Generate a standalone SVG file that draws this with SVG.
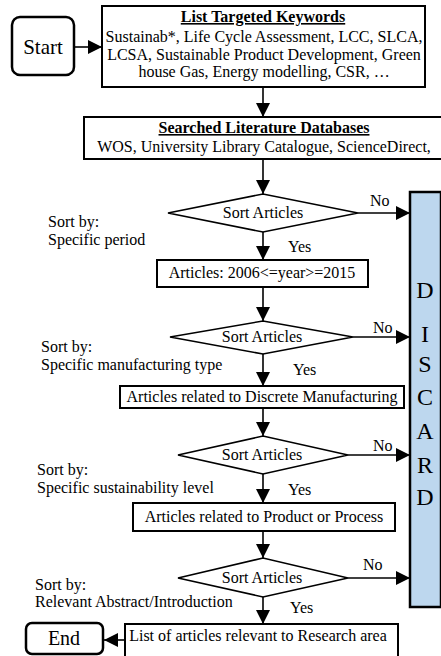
<svg xmlns="http://www.w3.org/2000/svg" width="441" height="656" viewBox="0 0 441 656">
<style>
text{font-family:"Liberation Serif","Times New Roman",serif;font-size:16px;fill:#000}
.c{text-anchor:middle}
.b{font-weight:bold;text-decoration:underline}
.box{fill:#fff;stroke:#000;stroke-width:2}
.dia{fill:#fff;stroke:#000;stroke-width:1.6}
.term{fill:#fff;stroke:#000;stroke-width:2.5}
.ln{fill:none;stroke:#000;stroke-width:1.6}
.big{font-size:24px}
</style>
<defs>
<marker id="ah" markerUnits="userSpaceOnUse" markerWidth="15" markerHeight="15" refX="14" refY="7" orient="auto">
<path d="M0,0 L14,7 L0,14 z" fill="#000"/>
</marker>
</defs>
<rect width="441" height="656" fill="#fff"/>

<g id="discard">
<rect x="410" y="192" width="31" height="415" fill="#BDD7EE" stroke="#000" stroke-width="2.5"/>
<text class="c big" x="425" y="298">D</text>
<text class="c big" x="425" y="342">I</text>
<text class="c big" x="425" y="372">S</text>
<text class="c big" x="425" y="405">C</text>
<text class="c big" x="425" y="439">A</text>
<text class="c big" x="425" y="473">R</text>
<text class="c big" x="425" y="505">D</text>
</g>

<g id="connectors">
<line class="ln" x1="74" y1="47" x2="102" y2="47" marker-end="url(#ah)"/>
<line class="ln" x1="263" y1="87" x2="263" y2="117" marker-end="url(#ah)"/>
<line class="ln" x1="263" y1="159" x2="263" y2="194" marker-end="url(#ah)"/>
<line class="ln" x1="263" y1="232" x2="263" y2="260" marker-end="url(#ah)"/>
<line class="ln" x1="263" y1="287" x2="263" y2="321" marker-end="url(#ah)"/>
<line class="ln" x1="263" y1="354" x2="263" y2="386" marker-end="url(#ah)"/>
<line class="ln" x1="263" y1="408" x2="263" y2="436" marker-end="url(#ah)"/>
<line class="ln" x1="263" y1="474" x2="263" y2="503" marker-end="url(#ah)"/>
<line class="ln" x1="263" y1="531" x2="263" y2="558" marker-end="url(#ah)"/>
<line class="ln" x1="263" y1="597" x2="263" y2="624" marker-end="url(#ah)"/>
<line class="ln" x1="358" y1="213" x2="410" y2="213" marker-end="url(#ah)"/>
<line class="ln" x1="353" y1="337" x2="410" y2="337" marker-end="url(#ah)"/>
<line class="ln" x1="348" y1="455" x2="410" y2="455" marker-end="url(#ah)"/>
<line class="ln" x1="348" y1="578" x2="410" y2="578" marker-end="url(#ah)"/>
<line class="ln" x1="125" y1="640" x2="104" y2="640" marker-end="url(#ah)"/>
<text x="370" y="206">No</text>
<text x="373" y="333">No</text>
<text x="373" y="451">No</text>
<text x="363" y="570">No</text>
<text x="288" y="252">Yes</text>
<text x="293" y="375">Yes</text>
<text x="288" y="495">Yes</text>
<text x="290" y="613">Yes</text>
</g>

<g id="start">
<rect class="term" x="12" y="17" width="62" height="58" rx="8"/>
<text class="c" x="43" y="54" style="font-size:21px">Start</text>
</g>

<g id="keywords">
<rect class="box" x="102" y="6" width="323" height="81" stroke-width="2.5"/>
<text class="c b" x="263" y="22">List Targeted Keywords</text>
<text class="c" x="264" y="42">Sustainab*, Life Cycle Assessment, LCC, SLCA,</text>
<text class="c" x="264" y="60">LCSA, Sustainable Product Development, Green</text>
<text class="c" x="264" y="77">house Gas, Energy modelling, CSR, …</text>
</g>

<g id="databases">
<rect class="box" x="84" y="117" width="362" height="42"/>
<text class="c b" x="264" y="133">Searched Literature Databases</text>
<text class="c" x="264" y="152">WOS, University Library Catalogue, ScienceDirect,</text>
</g>

<g id="sort1">
<polygon class="dia" points="168,213 263,194 358,213 263,232"/>
<text class="c" x="263" y="218">Sort Articles</text>
<text x="48" y="227">Sort by:</text>
<text x="48" y="245">Specific period</text>
</g>

<g id="period">
<rect class="box" x="157" y="260" width="211" height="27"/>
<text class="c" x="262" y="278">Articles: 2006&lt;=year&gt;=2015</text>
</g>

<g id="sort2">
<polygon class="dia" points="170,337 263,321 353,337 263,354"/>
<text class="c" x="262" y="342">Sort Articles</text>
<text x="41" y="352">Sort by:</text>
<text x="41" y="370">Specific manufacturing type</text>
</g>

<g id="discrete">
<rect class="box" x="120" y="386" width="284" height="22"/>
<text class="c" x="262" y="402">Articles related to Discrete Manufacturing</text>
</g>

<g id="sort3">
<polygon class="dia" points="178,455 263,436 348,455 263,474"/>
<text class="c" x="262" y="460">Sort Articles</text>
<text x="37" y="475">Sort by:</text>
<text x="37" y="493">Specific sustainability level</text>
</g>

<g id="product">
<rect class="box" x="133" y="503" width="262" height="28"/>
<text class="c" x="264" y="522">Articles related to Product or Process</text>
</g>

<g id="sort4">
<polygon class="dia" points="178,578 263,558 348,578 263,597"/>
<text class="c" x="262" y="583">Sort Articles</text>
<text x="35" y="590">Sort by:</text>
<text x="35" y="607">Relevant Abstract/Introduction</text>
</g>

<g id="relevant">
<rect class="box" x="125" y="624" width="273" height="40"/>
<text class="c" x="258" y="641">List of articles relevant to Research area</text>
</g>

<g id="end">
<rect class="term" x="26" y="623" width="77" height="31" rx="6"/>
<text class="c" x="64" y="645" style="font-size:20px">End</text>
</g>
</svg>
